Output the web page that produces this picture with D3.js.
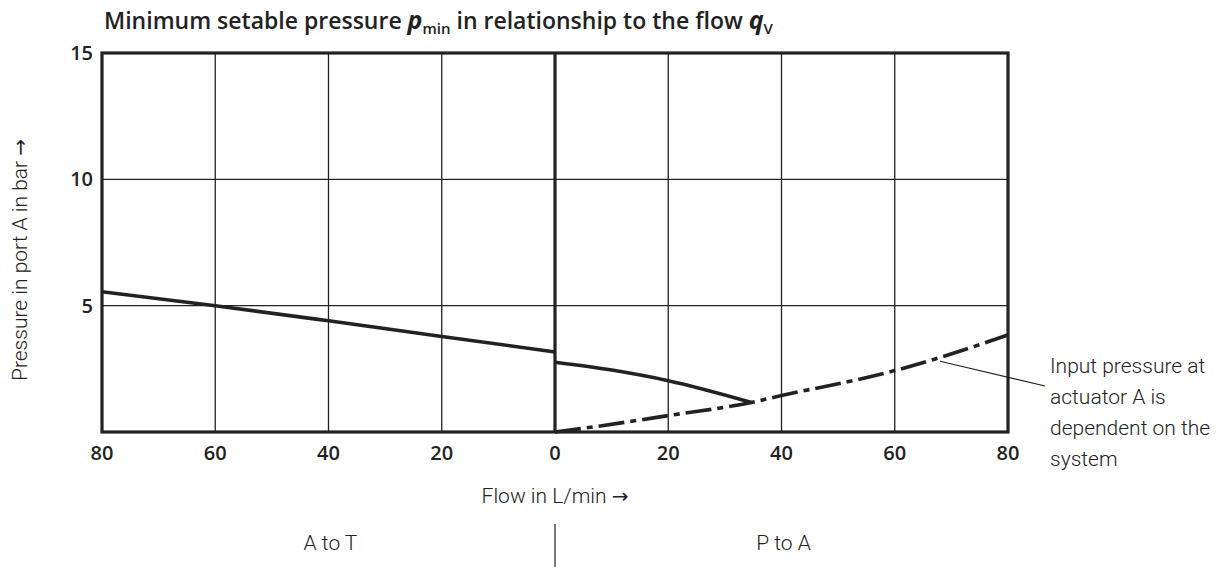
<!DOCTYPE html>
<html lang="en">
<head>
    <meta charset="UTF-8">
    <title>Minimum setable pressure</title>
    <script src="https://d3js.org/d3.v7.min.js"></script>
    <style>
        body { margin: 0; background: #fff; }
        svg text { fill: #222; }
        .cond { font-family: Roboto, sans-serif; font-weight: 300; }
        .bold { font-family: "Open Sans", sans-serif; font-weight: 600; }
        .arrow { font-family: "DejaVu Sans", sans-serif; font-weight: normal; }
    </style>
</head>
<body>
<div class="chart"></div>
<script>
    const w = 1228;
    const h = 567;

    // data
    const flowAT = [-80, -60, -40, -20, 0];
    const pressAT = [5.55, 5.0, 4.4, 3.78, 3.17];

    const flowPA = [0, 10, 20, 34.7];
    const pressPA = [2.76, 2.45, 2.03, 1.17];

    const flowInput = [0, 8, 20, 34.7, 40, 60, 67, 80];
    const pressInput = [0, 0.24, 0.65, 1.17, 1.44, 2.43, 2.88, 3.84];

    const xTicks = [-80, -60, -40, -20, 0, 20, 40, 60, 80];
    const yTicks = [5, 10, 15];

    const x = d3.scaleLinear().domain([-80, 80]).range([102, 1008]);
    const y = d3.scaleLinear().domain([0, 15]).range([432, 53]);

    const svg = d3.select(".chart").append("svg")
        .attr("width", w)
        .attr("height", h);

    // grid
    svg.append("g")
        .selectAll("line")
        .data(xTicks.slice(1, -1).filter(d => d !== 0))
        .join("line")
        .attr("x1", d => x(d)).attr("x2", d => x(d))
        .attr("y1", y(0)).attr("y2", y(15))
        .attr("stroke", "#222").attr("stroke-width", 1.3);

    svg.append("g")
        .selectAll("line")
        .data(yTicks.slice(0, -1))
        .join("line")
        .attr("x1", x(-80)).attr("x2", x(80))
        .attr("y1", d => y(d)).attr("y2", d => y(d))
        .attr("stroke", "#222").attr("stroke-width", 1.3);

    // frame + centre line
    svg.append("rect")
        .attr("x", x(-80)).attr("y", y(15))
        .attr("width", x(80) - x(-80)).attr("height", y(0) - y(15))
        .attr("fill", "none").attr("stroke", "#222").attr("stroke-width", 3.2);

    svg.append("line")
        .attr("x1", x(0)).attr("x2", x(0))
        .attr("y1", y(0)).attr("y2", y(15))
        .attr("stroke", "#222").attr("stroke-width", 3.2);

    // curves
    const line = d3.line()
        .x(d => x(d[0]))
        .y(d => y(d[1]))
        .curve(d3.curveMonotoneX);

    svg.append("path")
        .attr("d", line(d3.zip(flowAT, pressAT)))
        .attr("fill", "none").attr("stroke", "#222").attr("stroke-width", 3.6);

    svg.append("path")
        .attr("d", line(d3.zip(flowPA, pressPA)))
        .attr("fill", "none").attr("stroke", "#222").attr("stroke-width", 3.6);

    svg.append("path")
        .attr("d", line(d3.zip(flowInput, pressInput)))
        .attr("fill", "none").attr("stroke", "#222").attr("stroke-width", 3.6)
        .attr("stroke-dasharray", "26,6,6,6");

    // tick labels
    svg.append("g")
        .selectAll("text")
        .data(xTicks)
        .join("text")
        .attr("class", "bold")
        .attr("x", d => x(d))
        .attr("y", 460)
        .attr("text-anchor", "middle")
        .attr("font-size", 20)
        .text(d => Math.abs(d));

    svg.append("g")
        .selectAll("text")
        .data(yTicks)
        .join("text")
        .attr("class", "bold")
        .attr("x", 93)
        .attr("y", d => y(d) + 7)
        .attr("text-anchor", "end")
        .attr("font-size", 20)
        .text(d => d);

    // title
    const title = svg.append("text")
        .attr("class", "bold")
        .attr("x", 104)
        .attr("y", 29)
        .attr("font-size", 23);
    title.append("tspan").text("Minimum setable pressure ");
    title.append("tspan").attr("font-style", "italic").attr("font-weight", 700).attr("font-size", 25).text("p");
    title.append("tspan").attr("font-size", 15).attr("dy", 5).text("min");
    title.append("tspan").attr("dy", -5).text(" in relationship to the flow ");
    title.append("tspan").attr("font-style", "italic").attr("font-weight", 700).attr("font-size", 25).text("q");
    title.append("tspan").attr("font-size", 15).attr("dy", 5).text("V");

    // axis titles
    const yTitle = svg.append("text")
        .attr("class", "cond")
        .attr("transform", "translate(27,260) rotate(-90)")
        .attr("text-anchor", "middle")
        .attr("font-size", 21);
    yTitle.append("tspan").text("Pressure in port A in bar ");
    yTitle.append("tspan").attr("class", "arrow").attr("font-size", 20).text("\u2192");

    const xTitle = svg.append("text")
        .attr("class", "cond")
        .attr("x", x(0))
        .attr("y", 503)
        .attr("text-anchor", "middle")
        .attr("font-size", 21);
    xTitle.append("tspan").text("Flow in L/min ");
    xTitle.append("tspan").attr("class", "arrow").attr("font-size", 20).text("\u2192");

    // direction labels
    svg.append("text")
        .attr("class", "cond")
        .attr("x", x(-40) + 2)
        .attr("y", 550)
        .attr("text-anchor", "middle")
        .attr("font-size", 21)
        .text("A to T");

    svg.append("text")
        .attr("class", "cond")
        .attr("x", x(40) + 2)
        .attr("y", 550)
        .attr("text-anchor", "middle")
        .attr("font-size", 21)
        .text("P to A");

    svg.append("line")
        .attr("x1", x(0)).attr("x2", x(0))
        .attr("y1", 524).attr("y2", h)
        .attr("stroke", "#222").attr("stroke-width", 1.2);

    // annotation
    svg.append("line")
        .attr("x1", x(68)).attr("y1", y(2.8))
        .attr("x2", 1045).attr("y2", 386)
        .attr("stroke", "#222").attr("stroke-width", 1.2);

    const note = svg.append("text")
        .attr("class", "cond")
        .attr("x", 1050)
        .attr("font-size", 21);
    ["Input pressure at", "actuator A is", "dependent on the", "system"].forEach((t, i) => {
        note.append("tspan").attr("x", 1050).attr("y", 373 + i * 31).text(t);
    });
</script>
</body>
</html>
